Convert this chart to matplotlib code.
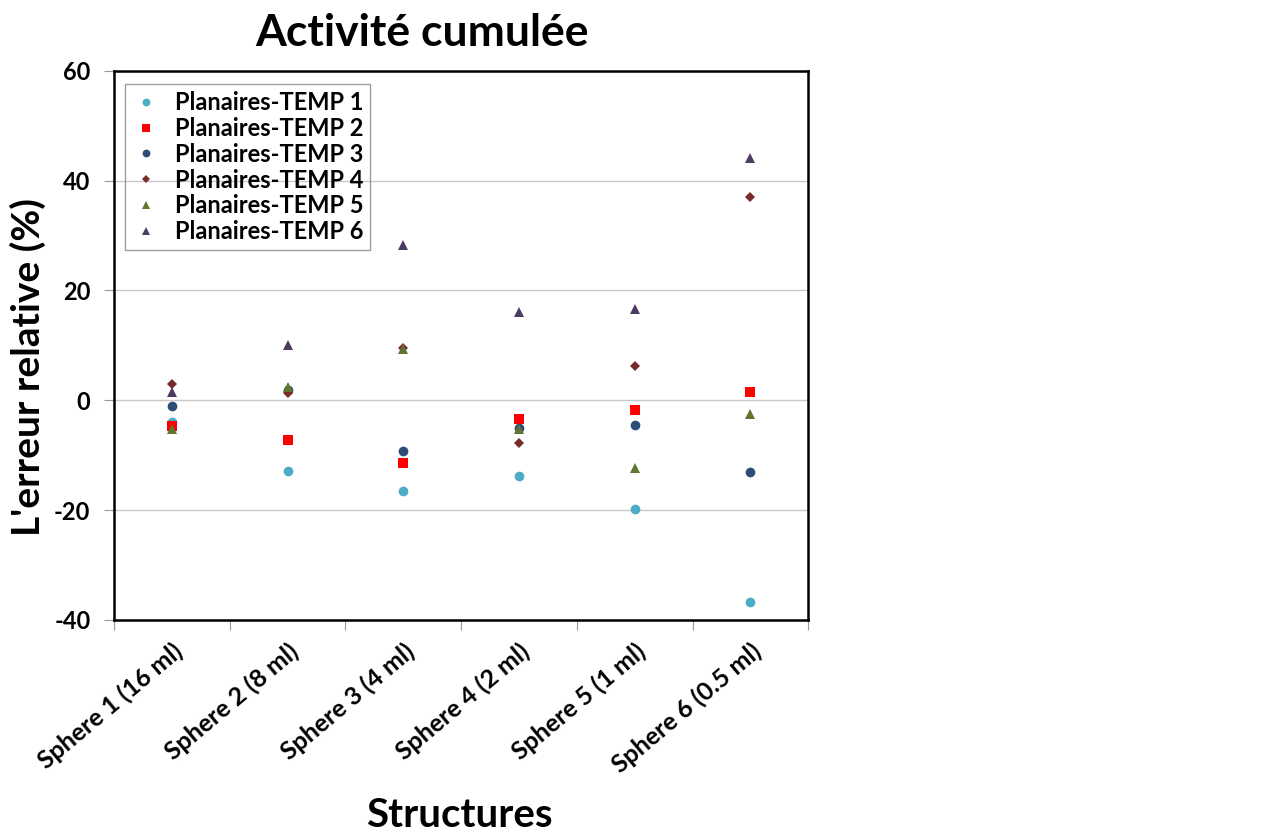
import matplotlib.pyplot as plt

plt.rcParams['font.family'] = ['Lato', 'DejaVu Sans']
plt.rcParams['axes.unicode_minus'] = False

# categories
structures = ['Sphere 1 (16 ml)', 'Sphere 2 (8 ml)', 'Sphere 3 (4 ml)',
              'Sphere 4 (2 ml)', 'Sphere 5 (1 ml)', 'Sphere 6 (0.5 ml)']

# relative error (%)
temp1 = [-3.9, -12.8, -16.6, -13.7, -19.7, -36.7]
temp2 = [-4.7, -7.3, -11.5, -3.4, -1.7, 1.5]
temp3 = [-1.1, 1.8, -9.2, -5.0, -4.5, -13.1]
temp4 = [2.9, 1.3, 9.5, -7.8, 6.3, 37.0]
temp5 = [-5.2, 2.4, 9.3, -5.3, -12.3, -2.5]
temp6 = [1.6, 10.1, 28.3, 16.0, 16.6, 44.2]

series = [
    ('Planaires-TEMP 1', temp1, 'o', '#4BACC6', 7),
    ('Planaires-TEMP 2', temp2, 's', '#FF0000', 7),
    ('Planaires-TEMP 3', temp3, 'o', '#2C4D75', 7),
    ('Planaires-TEMP 4', temp4, 'D', '#772C2A', 5.5),
    ('Planaires-TEMP 5', temp5, '^', '#5F7530', 7.5),
    ('Planaires-TEMP 6', temp6, '^', '#4D3B62', 7.5),
]

fig = plt.figure(figsize=(12.63, 8.34), dpi=100)
ax = fig.add_axes([0.0903, 0.2566, 0.5497, 0.6585])

x = list(range(1, len(structures) + 1))
for name, vals, mk, col, ms in series:
    ax.plot(x, vals, linestyle='none', marker=mk, color=col, markersize=ms,
            markeredgewidth=0, label=name)

ax.set_xlim(0.5, len(structures) + 0.5)
ax.set_ylim(-40, 60)
ax.set_yticks(range(-40, 61, 20))
ax.yaxis.grid(True, color='#C8C8C8', linewidth=1)
ax.set_axisbelow(True)

# ticks between categories, labels at category centers
ax.set_xticks([i + 0.5 for i in range(0, len(structures) + 1)])
ax.set_xticklabels([])
ax.set_xticks(x, minor=True)
ax.set_xticklabels(structures, minor=True, rotation=40, ha='right',
                   rotation_mode='anchor', fontsize=18, fontweight='bold')
ax.tick_params(axis='x', which='minor', length=0, pad=14)
ax.tick_params(axis='x', which='major', length=7, direction='out', color='#999999')
ax.tick_params(axis='y', length=7, direction='out', color='#999999',
               labelsize=17, pad=10)
for lab in ax.get_yticklabels():
    lab.set_fontweight('bold')

for sp in ax.spines.values():
    sp.set_linewidth(1.8)
    sp.set_color('black')

fig.text(0.022, 0.56, "L'erreur relative (%)", rotation=90, ha='center',
         va='center', fontsize=28, fontweight='bold')
fig.text(0.364, 0.022, 'Structures', ha='center', va='center',
         fontsize=29, fontweight='bold')
fig.text(0.334, 0.96, 'Activité cumulée', ha='center', va='center',
         fontsize=32, fontweight='bold')

leg = ax.legend(loc='upper left', bbox_to_anchor=(0.016, 0.976), borderaxespad=0,
                frameon=True, facecolor='none', edgecolor='#888888', fancybox=False,
                prop={'weight': 'bold', 'size': 17}, handletextpad=0.6,
                borderpad=0.3, labelspacing=0.12, handlelength=1.2,
                markerscale=0.8)
leg.get_frame().set_linewidth(1)

fig.savefig('out.png', dpi=100)
